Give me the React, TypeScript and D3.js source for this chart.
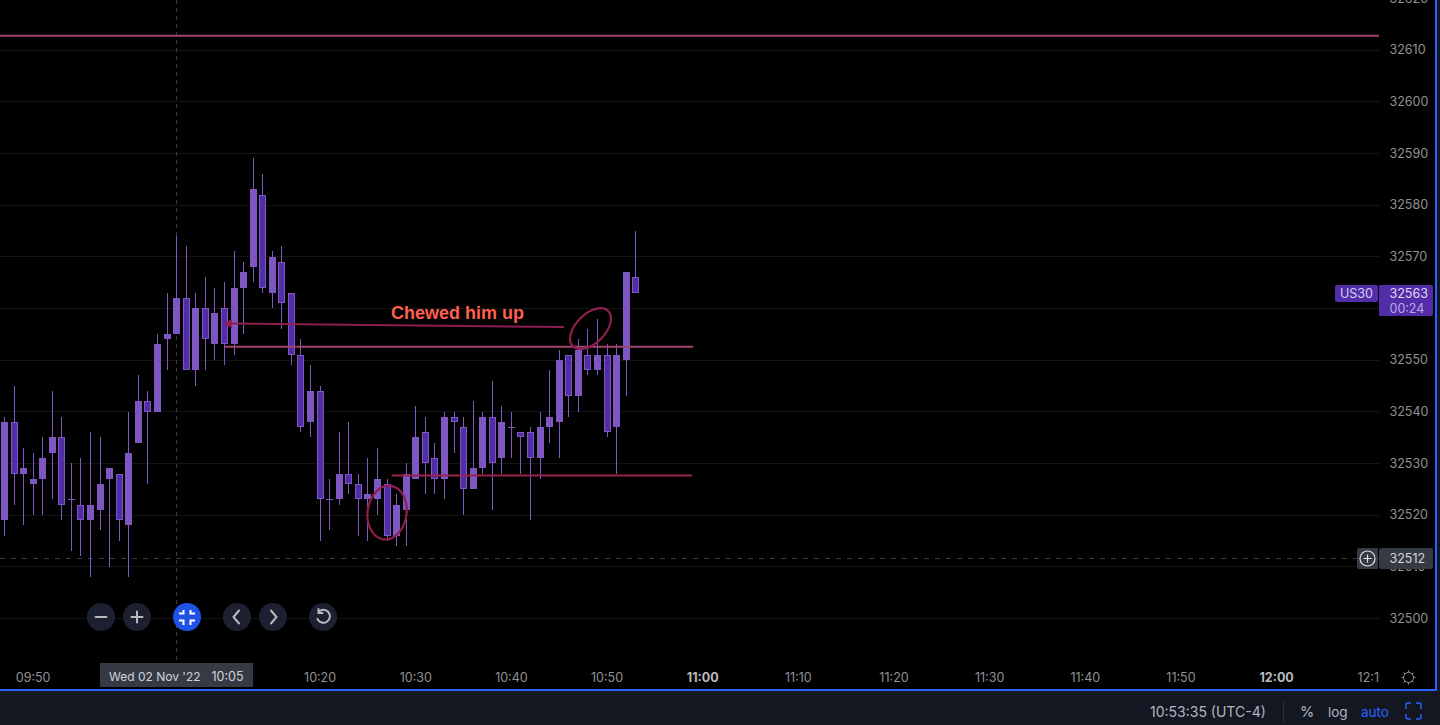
import React, { useEffect } from "react";
import * as d3 from "d3";

const firstMinute = 9 * 60 + 47;
const highs = [32539,32545,32533,32532,32535,32544,32539,32530,32531,32536,32535,32529,32528,32540,32547,32544,32555,32563,32574,32572,32563,32566,32564,32565,32571,32569,32589,32586,32571,32572,32563,32554,32549,32545,32527,32536,32538,32528,32531,32533,32527,32524,32530,32541,32539,32534,32540,32540,32539,32542,32540,32546,32541,32540,32536,32537,32540,32548,32552,32551,32554,32556,32558,32553,32553,32567,32575];
const bodyTops = [32538,32538,32529,32527,32531,32535,32535,32523,32522,32522,32526,32529,32528,32532,32542,32542,32553,32555,32562,32562,32560,32560,32559,32560,32564,32567,32583,32582,32570,32569,32563,32551,32544,32544,32523,32528,32528,32526,32524,32527,32526,32522,32528,32535,32536,32531,32539,32539,32537,32529,32539,32539,32538,32537,32536,32536,32537,32539,32550,32551,32552,32551,32551,32551,32551,32567,32566];
const bodyBottoms = [32519,32528,32528,32526,32527,32532,32522,32523,32519,32519,32521,32527,32519,32518,32534,32540,32540,32554,32555,32548,32548,32554,32553,32553,32553,32564,32568,32564,32563,32561,32551,32537,32538,32523,32523,32523,32526,32523,32523,32523,32516,32516,32521,32527,32530,32527,32527,32538,32525,32525,32529,32530,32531,32537,32535,32531,32531,32537,32538,32543,32543,32548,32548,32536,32537,32550,32563];
const lows = [32516,32522,32518,32520,32520,32523,32519,32513,32512,32508,32517,32510,32515,32508,32534,32526,32540,32548,32555,32548,32545,32548,32550,32549,32551,32555,32565,32563,32560,32556,32549,32536,32535,32515,32517,32522,32524,32516,32515,32520,32515,32514,32514,32527,32524,32524,32523,32532,32520,32525,32528,32521,32528,32531,32528,32519,32527,32534,32531,32539,32540,32547,32547,32535,32528,32543,32563];
const isDown = [0,1,0,0,0,0,1,0,1,0,0,0,1,0,0,1,0,0,0,1,0,1,0,1,0,0,0,1,0,1,1,1,0,1,0,0,1,1,0,0,1,0,0,0,1,1,0,1,1,0,0,1,0,0,1,1,0,0,0,1,0,1,0,1,0,0,1];

const priceTicks = [32620,32610,32600,32590,32580,32570,32560,32550,32540,32530,32520,32510,32500];
const timeTicks = [
  { m: 590, label: "09:50", bold: false },
  { m: 620, label: "10:20", bold: false },
  { m: 630, label: "10:30", bold: false },
  { m: 640, label: "10:40", bold: false },
  { m: 650, label: "10:50", bold: false },
  { m: 660, label: "11:00", bold: true },
  { m: 670, label: "11:10", bold: false },
  { m: 680, label: "11:20", bold: false },
  { m: 690, label: "11:30", bold: false },
  { m: 700, label: "11:40", bold: false },
  { m: 710, label: "11:50", bold: false },
  { m: 720, label: "12:00", bold: true },
  { m: 730, label: "12:10", bold: false },
];
const crosshairMinute = 605;
const crosshairPrice = 32511.7;
const lastPrice = 32563;
const levels = [
  { price: 32612.8, from: 586.5, to: 730.7, color: "#a0456e" },
  { price: 32552.6, from: 610, to: 659, color: "#a0456e" },
  { price: 32527.7, from: 627.5, to: 658.9, color: "#9c2350" },
];
const arrowFrom = { m: 645.5, p: 32556.4 };
const arrowTo = { m: 609.85, p: 32557.1 };
const loops = [
  { m: 627, p: 32520.5, rx: 19.5, ry: 27, tilt: 8 },
  { m: 648.27, p: 32556.1, rx: 25, ry: 14.5, tilt: -45 },
];

const W = 1440, H = 725;
const C = { bg: "#000000", up: "#7e57c2", down: "#512da8", grid: "#141414", text: "#8f9196", panel: "#363a45", bar: "#131722", blue: "#2962ff", btnBlue: "#1e53e5", btn: "#1c2030", crimson: "#8e1f4f" };
const FONT = "Inter, 'Noto Sans', sans-serif";

export default function App() {
  useEffect(() => { document.body.style.margin = "0"; document.body.style.background = "#000"; document.body.style.overflow = "hidden"; }, []);
  const x = d3.scaleLinear().domain([590, 720]).range([33.15, 33.15 + 130 * 9.565]);
  const y = d3.scaleLinear().domain([32500, 32610]).range([618.5, 50.2]);
  const px = (v: number) => Math.floor(v) + 0.5;
  const time = (i: number) => firstMinute + i;
  return (
    <svg width={W} height={H} style={{ display: "block", position: "absolute", left: 0, top: 0 }} fontFamily={FONT}>
      <defs>
        <clipPath id="pane"><rect x={0} y={0} width={1380} height={662} /></clipPath>
        <clipPath id="tscale"><rect x={0} y={662} width={1379.5} height={28} /></clipPath>
        <clipPath id="yscale"><rect x={1380} y={0} width={56} height={690} /></clipPath>
      </defs>
      <rect width={W} height={H} fill={C.bg} />
      <g clipPath="url(#pane)">
        {priceTicks.map((p) => <line key={p} x1={0} x2={1380} y1={px(y(p))} y2={px(y(p))} stroke={C.grid} />)}
        <line x1={px(x(crosshairMinute))} x2={px(x(crosshairMinute))} y1={0} y2={663} stroke="#3d3d3d" strokeDasharray="4 4" />
        <line x1={0} x2={1380} y1={px(y(crosshairPrice))} y2={px(y(crosshairPrice))} stroke="#3d3d3d" strokeDasharray="5 6" />
        {highs.map((h, i) => {
          const cx = px(x(time(i)));
          const top = Math.round(y(bodyTops[i]) - 0.2);
          const bot = Math.round(y(bodyBottoms[i]) - 0.2);
          const down = isDown[i] === 1;
          const flat = bot - top < 2;
          return (
            <g key={i}>
              <line x1={cx} x2={cx} y1={Math.round(y(h) - 0.2)} y2={Math.round(y(lows[i]) - 0.2)} stroke={C.up} />
              {flat
                ? <rect x={cx - 3.5} y={top} width={7} height={1} fill={C.up} />
                : down
                  ? <rect x={cx - 3} y={top + 0.5} width={6} height={bot - top - 1} fill={C.down} stroke={C.up} />
                  : <rect x={cx - 3.5} y={top} width={7} height={bot - top} fill={C.up} />}
            </g>
          );
        })}
        {levels.map((l, i) => (
          <line key={i} x1={x(l.from)} x2={x(l.to)} y1={y(l.price)} y2={y(l.price)} stroke={l.color} strokeWidth={2} />
        ))}
        <line x1={x(arrowFrom.m)} y1={y(arrowFrom.p)} x2={x(arrowTo.m) + 6} y2={y(arrowTo.p)} stroke={C.crimson} strokeWidth={2} />
        <path d={`M${x(arrowTo.m)} ${y(arrowTo.p)}l9 -4.5v9z`} fill={C.crimson} />
        {loops.map((l, i) => (
          <ellipse key={i} cx={x(l.m)} cy={y(l.p)} rx={l.rx} ry={l.ry} fill="none" stroke={C.crimson} strokeWidth={2.2} transform={`rotate(${l.tilt} ${x(l.m)} ${y(l.p)})`} />
        ))}
        <text x={391} y={319} fontFamily="'Liberation Sans', Arial, sans-serif" fontWeight={700} fontSize={18} fill="#ff5f4d">Chewed him up</text>
        {[101, 137, 187, 237, 273, 323].map((cx, i) => (
          <circle key={cx} cx={cx} cy={617} r={14} fill={i === 2 ? C.btnBlue : C.btn} />
        ))}
        <g stroke="#b8bac0" strokeWidth={2} fill="none" strokeLinecap="round">
          <path d="M95.5 617h11" />
          <path d="M131.5 617h11M137 611.5v11" />
          <path d="M239 610.5l-5.5 6.5 5.5 6.5" />
          <path d="M271 610.5l5.5 6.5-5.5 6.5" />
          <path d="M318.5 612a6.5 6.5 0 1 1-1 7M318.5 609v4h4" />
        </g>
        <g stroke="#ffffff" strokeWidth={2} fill="none">
          <path d="M183.5 610v3.5h-4.5M190.5 610v3.5h4.5M183.5 625v-4.5h-4.5M190.5 625v-4.5h4.5" />
        </g>
      </g>

      <g clipPath="url(#tscale)" fontSize={12.5} fill={C.text}>
        {timeTicks.map((t) => (
          <text key={t.m} x={x(t.m)} y={682} textAnchor="middle" fontWeight={t.bold ? 700 : 400} fill={t.bold ? "#b8bac0" : C.text}>{t.label}</text>
        ))}
      </g>

      <g clipPath="url(#yscale)" fontSize={12.5} fill={C.text}>
        {priceTicks.map((p) => <text key={p} x={1389.5} y={y(p) + 4} >{p}</text>)}
      </g>

      <rect x={100} y={663} width={153} height={24} fill={C.panel} />
      <text x={109} y={681} fontSize={12} fill="#d1d4dc">{"Wed 02 Nov '22"}</text>
      <text x={243.5} y={681} fontSize={12.5} fill="#d1d4dc" textAnchor="end">10:05</text>

      <rect x={1335} y={285} width={43} height={17} rx={2} fill={C.down} />
      <text x={1356.5} y={298} fontSize={12.5} fill="#d6cdee" textAnchor="middle">US30</text>
      <path d="M1379 285h52a2 2 0 0 1 2 2v27a2 2 0 0 1-2 2h-52z" fill={C.down} />
      <text x={1389.5} y={298} fontSize={12.5} fill="#e0d9f2">{lastPrice}</text>
      <text x={1389.5} y={312.5} fontSize={12.5} fill="#b9a9e0">00:24</text>

      <path d="M1359 548h19v21h-19a2 2 0 0 1-2-2v-17a2 2 0 0 1 2-2z" fill={C.panel} />
      <rect x={1379} y={548} width={54} height={21} rx={2} fill={C.panel} />
      <circle cx={1367.5} cy={558.5} r={7.5} fill="none" stroke="#e0e3eb" strokeWidth={1.2} />
      <path d="M1363.5 558.5h8M1367.5 554.5v8" stroke="#e0e3eb" strokeWidth={1.2} />
      <text x={1389.5} y={563} fontSize={12.5} fill="#d1d4dc">32512</text>

      <g stroke={C.text} fill="none" strokeWidth={1}>
        <circle cx={1408.5} cy={677.5} r={5} />
        <path d="M1408.5 670.5v2M1408.5 682.5v2M1401.5 677.5h2M1413.5 677.5h2M1403.5 672.5l1.5 1.5M1412 681l1.5 1.5M1413.5 672.5l-1.5 1.5M1405 681l-1.5 1.5" />
      </g>

      <rect x={0} y={689} width={1437} height={2} fill={C.blue} />
      <rect x={1435} y={0} width={2} height={691} fill={C.blue} />
      <rect x={1437} y={0} width={3} height={H} fill={C.bar} />
      <rect x={0} y={691} width={W} height={34} fill={C.bar} />
      <text x={1150} y={717} fontSize={14} fill="#b2b5be">10:53:35 (UTC-4)</text>
      <line x1={1283.5} x2={1283.5} y1={700} y2={722} stroke="#2a2e39" />
      <text x={1300} y={717} fontSize={14.5} fill="#b2b5be">%</text>
      <text x={1328} y={717} fontSize={13.5} fill="#b2b5be">log</text>
      <text x={1361} y={717} fontSize={13.5} fill={C.blue}>auto</text>
      <path d="M1406 709v-4a2 2 0 0 1 2-2h3M1416 703h3a2 2 0 0 1 2 2v4M1421 714v3a2 2 0 0 1-2 2h-3M1411 719h-3a2 2 0 0 1-2-2v-3" fill="none" stroke={C.blue} strokeWidth={1.5} />
    </svg>
  );
}
